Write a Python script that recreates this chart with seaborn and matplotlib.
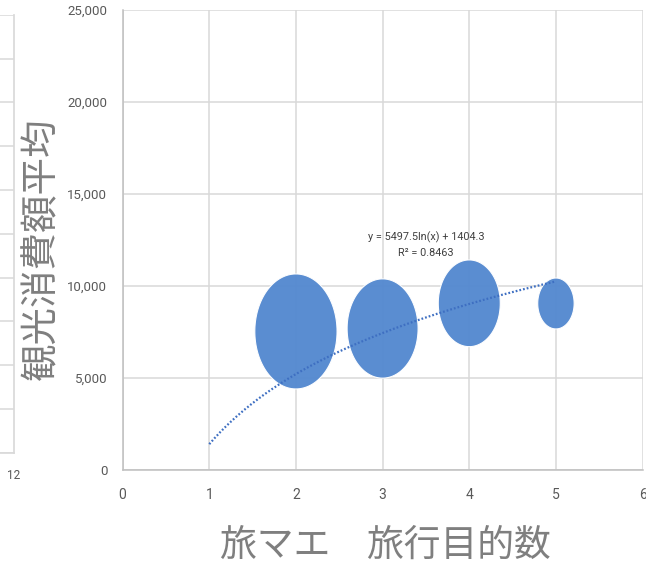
import numpy as np
import pandas as pd
import matplotlib
matplotlib.use("Agg")
import matplotlib.pyplot as plt
from matplotlib.path import Path
import seaborn as sns

# ---- data ----
purpose_count = [2, 3, 4, 5]                       # 旅マエ 旅行目的数
avg_spend = [7530, 7690, 9060, 9050]               # 観光消費額平均
bubble_size = [51, 38, 29, 10]                     # relative bubble sizes
trend_a = 5497.5                                   # y = a ln(x) + b
trend_b = 1404.3
trend_r2 = 0.8463
trend_x_range = [1, 5]
x_ticks = [0, 1, 2, 3, 4, 5, 6]
y_ticks = [0, 5000, 10000, 15000, 20000, 25000]
x_title = "旅マエ\u3000旅行目的数"
y_title = "観光消費額平均"

df = pd.DataFrame({"x": purpose_count, "y": avg_spend, "s": bubble_size})

sns.set_theme(style="white")
plt.rcParams["font.family"] = ["Roboto", "DejaVu Sans"]

fig = plt.figure(figsize=(6.46, 5.65), dpi=100)
W, H = 646, 565

# main axes
x0, x1 = 122.6, 642.6
y0, y1 = 470.0, 10.0
ax = fig.add_axes([x0 / W, 1 - y0 / H, (x1 - x0) / W, (y0 - y1) / H])

grid_c = "#D9D9D9"
tick_c = "#595959"
title_c = "#7F7F7F"

# ellipse marker (bubbles appear vertically stretched)
t = np.linspace(0, 2 * np.pi, 120)
verts = np.column_stack([0.715 * np.cos(t), np.sin(t)])
ell = Path(verts, closed=True)

sns.scatterplot(data=df, x="x", y="y", size="s", sizes=(0, 6856),
                size_norm=(0, max(bubble_size)), marker=ell,
                color="#5589D0", alpha=0.97, edgecolor="white", linewidth=0.8,
                legend=False, ax=ax, zorder=3)

# trendline from the stated equation
tx = np.linspace(trend_x_range[0], trend_x_range[1], 200)
ty = trend_a * np.log(tx) + trend_b
sns.lineplot(x=tx, y=ty, ax=ax, color="#3E6FC2", linestyle=(0, (0.8, 0.9)),
             linewidth=1.6, zorder=4)

ax.text(3.5, 12250, f"y = {trend_a}ln(x) + {trend_b}\nR² = {trend_r2}",
        ha="center", va="center", fontsize=7.8, color="#404040",
        linespacing=1.6, family=["Roboto", "DejaVu Sans"], zorder=5)

ax.set_xlim(0, 6)
ax.set_ylim(0, 25000)
ax.set_xticks(x_ticks)
ax.set_yticks(y_ticks)
ax.set_xticklabels([str(v) for v in x_ticks])
ax.set_yticklabels([f"{v:,}" for v in y_ticks])
ax.grid(True, color=grid_c, linewidth=1.1, zorder=0)
ax.set_axisbelow(True)
for side in ["top", "right"]:
    ax.spines[side].set_visible(False)
for side in ["left", "bottom"]:
    ax.spines[side].set_color("#BFBFBF")
    ax.spines[side].set_linewidth(1.1)
ax.tick_params(axis="both", length=0, labelsize=9.5, colors=tick_c)
ax.tick_params(axis="x", pad=13, labelsize=10)
ax.tick_params(axis="y", pad=11)

cjk = ["Noto Sans CJK JP", "DejaVu Sans"]
ax.set_xlabel(x_title, fontsize=26.5, color=title_c, family=cjk, va="center")
ax.xaxis.set_label_coords((385 - x0) / (x1 - x0), (y0 - 545) / (y0 - y1))
ax.set_ylabel(y_title, fontsize=27, color=title_c, family=cjk, va="center")
ax.yaxis.set_label_coords((42 - x0) / (x1 - x0), (y0 - 249) / (y0 - y1))

# partial neighbouring chart at the left edge
lx1, ly0, ly1 = 13.5, 452.7, 14.7
ax2 = fig.add_axes([-40 / W, 1 - ly0 / H, (lx1 + 40) / W, (ly0 - ly1) / H])
ax2.set_xlim(0, 12)
ax2.set_ylim(0, 10)
ax2.set_yticks(range(11))
ax2.set_yticklabels([])
ax2.set_xticks([12])
ax2.set_xticklabels(["12"])
ax2.grid(True, axis="y", color=grid_c, linewidth=1.1)
ax2.grid(False, axis="x")
for side in ["top", "left"]:
    ax2.spines[side].set_visible(False)
ax2.spines["right"].set_color(grid_c)
ax2.spines["bottom"].set_color(grid_c)
ax2.tick_params(axis="both", length=0, labelsize=8.5, colors=tick_c)
ax2.tick_params(axis="x", pad=12)

fig.savefig("out.png", dpi=100)
